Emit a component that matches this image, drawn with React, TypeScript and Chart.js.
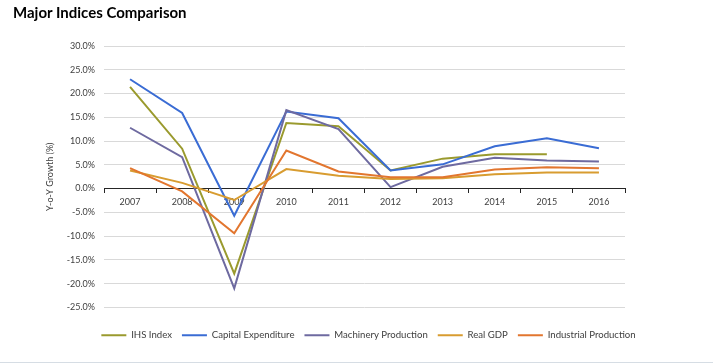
import React, { useEffect, useRef } from 'react';
import { Chart, registerables } from 'chart.js';

Chart.register(...registerables);

const years = ['2007', '2008', '2009', '2010', '2011', '2012', '2013', '2014', '2015', '2016'];
const ihsIndex = [21.4, 8.4, -17.9, 13.8, 13.1, 3.8, 6.3, 7.2, 7.2, null];
const capitalExpenditure = [23.0, 15.9, -5.7, 16.2, 14.8, 3.8, 5.1, 8.9, 10.6, 8.5];
const machineryProduction = [12.8, 6.6, -21.0, 16.5, 12.5, 0.3, 4.6, 6.5, 5.9, 5.7];
const realGDP = [3.8, 1.2, -2.4, 4.1, 2.7, 2.0, 2.2, 3.0, 3.4, 3.4];
const industrialProduction = [4.3, -0.6, -9.4, 8.0, 3.6, 2.4, 2.4, 4.0, 4.5, 4.3];

const seriesNames = ['IHS Index', 'Capital Expenditure', 'Machinery Production', 'Real GDP', 'Industrial Production'];
const seriesColors = ['#9a9a2e', '#3a6cd4', '#6e6aa0', '#d89c30', '#e2762f'];

const FONT = 'Lato, "Open Sans", sans-serif';

export default function App() {
  const ref = useRef<HTMLCanvasElement | null>(null);

  useEffect(() => {
    if (!ref.current) return;
    const values = [ihsIndex, capitalExpenditure, machineryProduction, realGDP, industrialProduction];
    const chart = new Chart(ref.current, {
      type: 'line',
      data: {
        labels: years,
        datasets: values.map((d, i) => ({
          label: seriesNames[i],
          data: d,
          borderColor: seriesColors[i],
          backgroundColor: seriesColors[i],
          borderWidth: 2,
          pointRadius: 0,
          pointHoverRadius: 0,
          tension: 0,
          spanGaps: false,
          order: values.length - i,
          xAxisID: 'x',
          yAxisID: 'y',
        })),
      },
      options: {
        responsive: false,
        animation: false,
        devicePixelRatio: 1,
        layout: { padding: { left: 24, right: 0, top: 46, bottom: 10 } },
        plugins: {
          title: { display: false },
          tooltip: { enabled: false },
          legend: {
            display: true,
            position: 'bottom',
            labels: {
              usePointStyle: true,
              pointStyle: 'line',
              pointStyleWidth: 25,
              boxHeight: 10,
              padding: 10,
              color: '#404040',
              font: { family: FONT, size: 9.6 },
              sort: (a: any, b: any) => a.datasetIndex - b.datasetIndex,
            },
          },
        },
        scales: {
          x: {
            type: 'category',
            position: { y: 0 } as any,
            offset: true,
            grid: {
              display: true,
              offset: true,
              drawOnChartArea: false,
              drawTicks: true,
              tickLength: 4,
              color: '#262626',
            },
            border: { display: true, color: '#262626', width: 1 },
            ticks: {
              color: '#404040',
              font: { family: FONT, size: 9 },
              padding: 4,
              maxRotation: 0,
            },
          },
          xPad: {
            type: 'category',
            position: 'bottom',
            display: true,
            grid: { display: false },
            border: { display: false },
            ticks: { display: false },
            afterFit: (s: any) => { s.height = 13; },
          },
          y: {
            type: 'linear',
            position: 'left',
            min: -25,
            max: 30,
            grid: { color: '#d9d9d9', lineWidth: 1, drawTicks: false },
            border: { display: false },
            ticks: {
              stepSize: 5,
              padding: 9,
              color: '#404040',
              font: { family: FONT, size: 9 },
              callback: (v: any) => Number(v).toFixed(1) + '%',
            },
            title: {
              display: true,
              text: 'Y-o-Y Growth (%)',
              color: '#404040',
              font: { family: FONT, size: 9 },
              padding: { top: 21, bottom: 0 },
            },
            afterFit: (s: any) => { s.width = 80; },
          },
          yPad: {
            type: 'linear',
            position: 'right',
            display: true,
            grid: { display: false },
            border: { display: false },
            ticks: { display: false },
            afterFit: (s: any) => { s.width = 88; },
          },
        },
      },
    });
    return () => chart.destroy();
  }, []);

  return (
    <div style={{ position: 'absolute', left: 0, top: 0, width: 713, height: 364, background: '#fff', overflow: 'hidden' }}>
      <canvas ref={ref} width={713} height={360} style={{ position: 'absolute', left: 0, top: 0, width: 713, height: 360 }} />
      <div
        style={{
          position: 'absolute',
          left: 13,
          top: 3,
          fontFamily: FONT,
          fontWeight: 700,
          fontSize: 15,
          color: '#000',
          whiteSpace: 'nowrap',
        }}
      >
        Major Indices Comparison
      </div>
      <div style={{ position: 'absolute', left: 0, top: 362, width: 713, height: 1, background: '#d6dde4' }} />
    </div>
  );
}
